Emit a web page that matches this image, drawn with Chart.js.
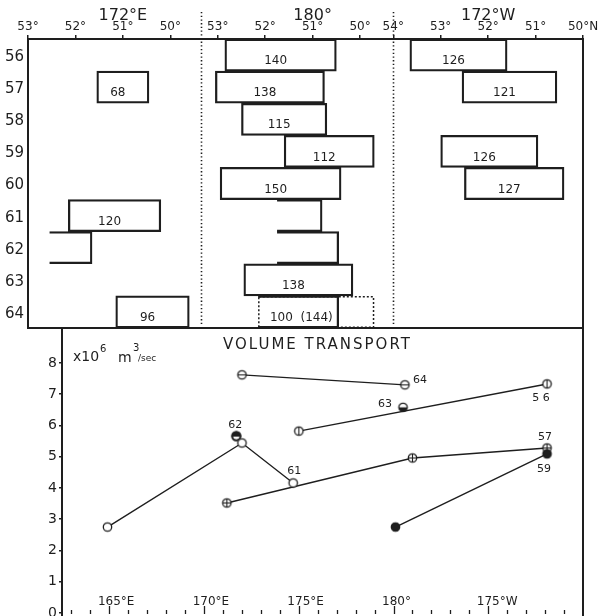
<!DOCTYPE html>
<html>
<head>
<meta charset="utf-8">
<script src="https://cdn.jsdelivr.net/npm/chart.js@4.4.1/dist/chart.umd.min.js"></script>
<style>
  html, body { margin: 0; padding: 0; background: #fff; }
  #wrap { position: relative; width: 604px; height: 616px; overflow: hidden; }
  #boxChart { position: absolute; left: 0; top: 0; }
  #transportChart { position: absolute; left: 0; top: 329px; }
</style>
</head>
<body>
<div id="wrap">
  <canvas id="boxChart" width="604" height="330"></canvas>
  <canvas id="transportChart" width="604" height="287"></canvas>
</div>
<script>
const INK = '#1e1e1e';
Chart.defaults.font.family = '"DejaVu Sans", sans-serif';
Chart.defaults.color = INK;

// ---- upper panel: one row per year, boxes give the latitude band (°N) on each meridian
const years = ['56', '57', '58', '59', '60', '61', '62', '63', '64'];
const sections = ['172°E', '180°', '172°W'];
const sectionOffset = [53, 57, 61.7];   // panel position = offset - latitude
const sectionHeaderLat = [51, 51, 52];
const latTicks172E = [53, 52, 51, 50];
const latTicks180 = [53, 52, 51, 50];
const latTicks172W = [54, 53, 52, 51, 50];
const separators = [3.65, 7.7];

// [north edge, south edge] per year, null = no section that year
const boxes172E = [null, [51.55, 50.45], null, null, null, [52.15, 50.2], [52.55, 51.65], null, [51.15, 49.6]];
const names172E = ['', '68', '', '', '', '120', '', '', '96'];
const open172E = [0, 0, 0, 0, 0, 0, 1, 0, 0];

const boxes180 = [[52.85, 50.5], [53.05, 50.75], [52.5, 50.7], [51.6, 49.7], [52.95, 50.4],
                  [51.75, 50.8], [51.75, 50.45], [52.45, 50.15], [52.15, 50.45]];
const names180 = ['140', '138', '115', '112', '150', '', '', '138', '100  (144)'];
const open180 = [0, 0, 0, 0, 0, 1, 1, 0, 1];
const dotted180 = [null, null, null, null, null, null, null, null, [52.15, 49.7]];

const boxes172W = [[53.65, 51.6], [52.55, 50.55], null, [53.0, 50.95], [52.5, 50.4], null, null, null, null];
const names172W = ['126', '121', '', '126', '127', '', '', '', ''];
const open172W = [0, 0, 0, 0, 0, 0, 0, 0, 0];

// ---- lower panel: volume transport (x10^6 m3/sec) against longitude (°E, 185 = 175°W)
const lon56 = [175.0, 188.1], vol56 = [5.82, 7.33];
const lon57 = [171.2, 181.0, 188.1], vol57 = [3.52, 4.96, 5.28];
const lon59 = [180.1, 188.1], vol59 = [2.75, 5.09];
const lon61 = [164.9, 172.0, 174.7], vol61 = [2.75, 5.44, 4.16];
const lon62 = [171.7], vol62 = [5.66];
const lon63 = [180.5], vol63 = [6.58];
const lon64 = [172.0, 180.6], vol64 = [7.62, 7.30];
const volTicks = [0, 1, 2, 3, 4, 5, 6, 7, 8];
const lonTicks = [165, 170, 175, 180, 185];
const lonTickText = ['165°E', '170°E', '175°E', '180°', '175°W'];

function toPos(s, lat) { return sectionOffset[s] - lat; }

const topTicks = [];
[latTicks172E, latTicks180, latTicks172W].forEach((list, s) => {
    list.forEach(lat => topTicks.push({ value: toPos(s, lat), label: lat + '°' }));
});
topTicks[topTicks.length - 1].label = '50°N';

// keep the plot area exactly where the axis boxes say
function fixSize(prop, size) {
    return axis => {
        axis[prop] = size;
        axis.paddingTop = 0;
        axis.paddingBottom = 0;
        axis.paddingLeft = 0;
        axis.paddingRight = 0;
    };
}

function boxSet(boxes, names, open, s) {
    return {
        data: boxes.map(b => (b ? [toPos(s, b[0]), toPos(s, b[1])] : null)),
        names: names,
        backgroundColor: 'rgba(0,0,0,0)',
        borderColor: INK,
        borderWidth: 1.6,
        borderSkipped: ctx => (open[ctx.dataIndex] ? 'left' : false),
        grouped: false,
        barPercentage: 1,
        categoryPercentage: 1,
    };
}

const dottedSet = {
    data: dotted180.map(b => (b ? [toPos(1, b[0]), toPos(1, b[1])] : null)),
    dotted: true,
    backgroundColor: 'rgba(0,0,0,0)',
    borderWidth: 0,
    grouped: false,
    barPercentage: 1,
    categoryPercentage: 1,
};

const boxDecor = {
    id: 'boxDecor',
    afterDraw(chart) {
        const ctx = chart.ctx;
        const xs = chart.scales.x;
        ctx.save();
        ctx.strokeStyle = INK;
        ctx.fillStyle = INK;
        // dotted meridian separators
        ctx.lineWidth = 1.6;
        ctx.setLineDash([1.3, 2.4]);
        separators.forEach(p => {
            const x = Math.round(xs.getPixelForValue(p)) + 0.5;
            ctx.beginPath();
            ctx.moveTo(x, 12);
            ctx.lineTo(x, 325);
            ctx.stroke();
        });
        // dotted box for the 1964 estimate
        ctx.setLineDash([2, 2]);
        ctx.lineWidth = 1.5;
        chart.data.datasets.forEach((ds, i) => {
            if (!ds.dotted) return;
            chart.getDatasetMeta(i).data.forEach((el, j) => {
                if (!ds.data[j]) return;
                const p = el.getProps(['x', 'y', 'base', 'height'], true);
                const l = Math.min(p.x, p.base), r = Math.max(p.x, p.base);
                ctx.strokeRect(l + 0.75, p.y - p.height / 2 + 0.75, r - l - 1.5, p.height - 1.5);
            });
        });
        ctx.setLineDash([]);
        // section headers
        ctx.textAlign = 'center';
        ctx.textBaseline = 'middle';
        ctx.font = '16px "DejaVu Sans"';
        sections.forEach((name, s) => {
            ctx.fillText(name, xs.getPixelForValue(toPos(s, sectionHeaderLat[s])), 16);
        });
        // transport numbers in the boxes
        ctx.font = '12px "DejaVu Sans"';
        chart.data.datasets.forEach((ds, i) => {
            if (!ds.names) return;
            chart.getDatasetMeta(i).data.forEach((el, j) => {
                if (!ds.names[j]) return;
                const p = el.getProps(['x', 'y', 'base'], true);
                const off = ds.names[j].length > 4 ? 3 : -5;
                ctx.fillText(ds.names[j], (p.x + p.base) / 2 + off, p.y + 6);
            });
        });
        ctx.restore();
    },
};

new Chart(document.getElementById('boxChart'), {
    type: 'bar',
    data: {
        labels: years,
        datasets: [
            boxSet(boxes172E, names172E, open172E, 0),
            boxSet(boxes180, names180, open180, 1),
            boxSet(boxes172W, names172W, open172W, 2),
            dottedSet,
        ],
    },
    options: {
        indexAxis: 'y',
        responsive: false,
        animation: false,
        layout: { padding: 0, autoPadding: false },
        plugins: { legend: { display: false }, tooltip: { enabled: false } },
        scales: {
            x: {
                type: 'linear',
                position: 'top',
                min: 0,
                max: 11.7,
                afterBuildTicks: axis => {
                    axis.ticks = topTicks.map(t => ({ value: t.value }));
                },
                afterFit: fixSize('height', 39),
                ticks: {
                    autoSkip: false,
                    maxRotation: 0,
                    padding: 1,
                    font: { size: 12 },
                    callback: (v, i) => topTicks[i].label,
                },
                grid: { drawOnChartArea: false, tickLength: 4, color: INK, lineWidth: 1.5 },
                border: { color: INK, width: 2 },
            },
            x2: {
                type: 'linear',
                position: 'bottom',
                ticks: { display: false },
                grid: { display: false },
                border: { color: INK, width: 2 },
                afterFit: fixSize('height', 2),
            },
            y: {
                type: 'category',
                position: 'left',
                ticks: { font: { size: 15 }, padding: 4, labelOffset: 2 },
                grid: { display: false, drawTicks: false },
                border: { color: INK, width: 2 },
                afterFit: fixSize('width', 28),
            },
            y2: {
                type: 'linear',
                position: 'right',
                ticks: { display: false },
                grid: { display: false },
                border: { color: INK, width: 2 },
                afterFit: fixSize('width', 21),
            },
        },
    },
    plugins: [boxDecor],
});

// ---- markers for the lower panel
function marker(kind) {
    const c = document.createElement('canvas');
    c.width = 13;
    c.height = 13;
    const g = c.getContext('2d');
    const m = 6.5, r = 4.2;
    g.lineWidth = 1.3;
    g.strokeStyle = INK;
    g.fillStyle = kind === 'filled' ? INK : '#fff';
    g.beginPath();
    g.arc(m, m, r, 0, Math.PI * 2);
    g.fill();
    g.stroke();
    g.fillStyle = INK;
    if (kind === 'half') {
        g.beginPath();
        g.arc(m, m, r, 0, Math.PI);
        g.fill();
    }
    if (kind === 'top') {
        g.beginPath();
        g.arc(m, m, r, Math.PI, Math.PI * 2);
        g.fill();
        g.lineWidth = 2;
        g.beginPath();
        g.arc(m, m, r, 0, Math.PI * 2);
        g.stroke();
    }
    g.lineWidth = 1.1;
    if (kind === 'bar' || kind === 'cross' || kind === 'top') {
        g.beginPath();
        g.moveTo(m - r, m);
        g.lineTo(m + r, m);
        g.stroke();
    }
    if (kind === 'vbar' || kind === 'cross') {
        g.beginPath();
        g.moveTo(m, m - r);
        g.lineTo(m, m + r);
        g.stroke();
    }
    return c;
}

function series(lon, vol, kind, name, labelAt, dx, dy) {
    return {
        data: lon.map((x, i) => ({ x: x, y: vol[i] })),
        name: name,
        labelAt: labelAt,
        dx: dx,
        dy: dy,
        borderColor: INK,
        borderWidth: 1.4,
        showLine: true,
        fill: false,
        tension: 0,
        pointStyle: marker(kind),
        pointRadius: 5,
    };
}

const transportDecor = {
    id: 'transportDecor',
    afterDraw(chart) {
        const ctx = chart.ctx;
        const xs = chart.scales.x, ys = chart.scales.y;
        const base = ys.getPixelForValue(0);
        ctx.save();
        ctx.strokeStyle = INK;
        ctx.fillStyle = INK;
        ctx.lineWidth = 1.3;
        // longitude ticks along the bottom
        for (let lon = Math.ceil(xs.min); lon <= xs.max - 0.5; lon++) {
            const x = Math.round(xs.getPixelForValue(lon)) + 0.5;
            const major = lonTicks.includes(lon);
            ctx.beginPath();
            ctx.moveTo(x, base + 1);
            ctx.lineTo(x, base - (major ? 7 : 3));
            ctx.stroke();
        }
        ctx.textBaseline = 'middle';
        ctx.textAlign = 'left';
        ctx.font = '12px "DejaVu Sans"';
        lonTicks.forEach((lon, i) => {
            const txt = lonTickText[i];
            const num = ctx.measureText(txt.slice(0, 3)).width;
            ctx.fillText(txt, xs.getPixelForValue(lon) - num / 2, base - 11);
        });
        // title and units
        ctx.font = '15px "DejaVu Sans"';
        ctx.letterSpacing = '2px';
        ctx.fillText('VOLUME TRANSPORT', 223, 16);
        ctx.letterSpacing = '0px';
        ctx.font = '14px "DejaVu Sans"';
        ctx.fillText('x10', 73, 28);
        ctx.fillText('m', 118, 29);
        ctx.font = '10px "DejaVu Sans"';
        ctx.fillText('6', 100, 20);
        ctx.fillText('3', 133, 19);
        ctx.font = '9px "DejaVu Sans"';
        ctx.fillText('/sec', 138, 30);
        // year labels next to the points
        ctx.textAlign = 'center';
        ctx.font = '11px "DejaVu Sans"';
        chart.data.datasets.forEach((ds, i) => {
            const el = chart.getDatasetMeta(i).data[ds.labelAt];
            ctx.fillText(ds.name, el.x + ds.dx, el.y + ds.dy);
        });
        ctx.restore();
    },
};

new Chart(document.getElementById('transportChart'), {
    type: 'line',
    data: {
        datasets: [
            series(lon64, vol64, 'bar', '64', 1, 15, -5),
            series(lon56, vol56, 'vbar', '5 6', 1, -6, 14),
            series(lon63, vol63, 'half', '63', 0, -18, -3),
            series(lon61, vol61, 'open', '61', 2, 1, -12),
            series(lon62, vol62, 'top', '62', 0, -1, -11),
            series(lon59, vol59, 'filled', '59', 1, -3, 15),
            series(lon57, vol57, 'cross', '57', 2, -2, -11),
        ],
    },
    options: {
        responsive: false,
        animation: false,
        layout: { padding: 0, autoPadding: false },
        plugins: { legend: { display: false }, tooltip: { enabled: false } },
        scales: {
            x: { type: 'linear', min: 162.5, max: 190, display: false },
            y: {
                type: 'linear',
                position: 'left',
                min: -0.096,
                max: 9.088,
                afterBuildTicks: axis => {
                    axis.ticks = volTicks.map(v => ({ value: v }));
                },
                afterFit: fixSize('width', 62),
                ticks: { font: { size: 14 }, padding: 2 },
                grid: { drawOnChartArea: false, tickLength: 3, color: INK, lineWidth: 1.5 },
                border: { color: INK, width: 2 },
            },
            y2: {
                type: 'linear',
                position: 'right',
                ticks: { display: false },
                grid: { display: false },
                border: { color: INK, width: 2 },
                afterFit: fixSize('width', 21),
            },
        },
    },
    plugins: [transportDecor],
});
</script>
</body>
</html>
